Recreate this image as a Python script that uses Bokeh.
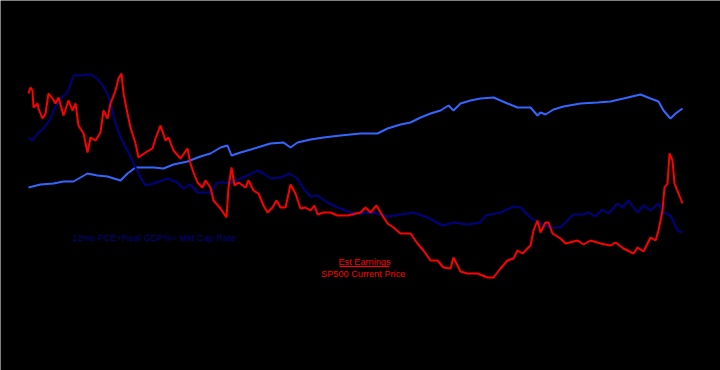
from bokeh.plotting import figure
from bokeh.models import Range1d, Label
from bokeh.embed import file_html
from bokeh.resources import INLINE

# time index (months from start) and series values
t_cap = [0,12,25,35,45,59,69,79,92,99,107,125,135,145,159,172,182,192,199,203,
         212,229,242,255,262,269,282,295,312,332,349,359,372,382,392,402,412,420,425,432,
         442,452,465,479,489,502,509,512,517,525,535,552,569,582,595,612,622,630,635,642,
         647,654]
v_cap = [18.3,18.6,18.7,18.9,18.9,19.7,19.5,19.4,19.0,19.7,20.3,20.3,20.2,20.6,20.9,21.4,21.7,22.3,22.5,21.5,
         21.8,22.3,22.7,22.8,22.3,22.8,23.1,23.3,23.5,23.7,23.7,24.2,24.6,24.8,25.3,25.7,26.0,26.5,26.0,26.7,
         27.0,27.2,27.3,26.7,26.3,26.3,25.5,25.8,25.6,26.1,26.4,26.7,26.8,26.9,27.2,27.6,27.2,26.9,26.0,25.2,
         25.7,26.2]

t_pce = [0,4,9,15,22,25,32,39,42,45,52,62,69,74,79,82,87,92,99,105,
         112,117,125,139,149,155,162,169,182,189,202,212,219,229,235,242,252,261,269,275,
         282,289,299,309,322,332,345,359,372,385,399,414,425,439,452,457,472,485,492,502,
         512,522,532,539,545,555,560,567,574,580,589,594,600,609,615,622,630,635,642,649,654]
v_pce = [23.3,23.0,23.7,24.2,25.2,26.0,27.2,27.8,28.7,29.5,29.5,29.6,29.2,28.5,27.7,26.7,24.7,23.3,22.0,20.7,
         19.3,18.5,18.7,19.2,18.8,18.2,18.6,17.8,17.8,18.8,18.8,19.2,19.5,20.0,19.7,19.2,19.3,19.7,19.2,18.2,
         17.4,17.5,16.8,16.3,15.8,15.7,15.8,15.4,15.6,15.8,15.3,14.5,14.8,14.6,14.8,15.5,15.8,16.4,16.3,15.3,
         14.7,14.3,14.3,15.0,15.6,15.6,15.8,15.4,16.1,15.7,16.7,16.3,17.0,15.8,16.5,16.0,16.7,15.8,15.5,14.0,13.8]

t_eps = [0,2,4,5,9,10,14,17,20,24,27,30,35,40,44,47,50,55,59,62,
         67,72,75,79,82,87,90,93,95,99,102,107,110,117,124,127,132,137,140,145,
         152,159,162,165,169,174,177,182,185,192,198,200,203,206,210,217,220,225,230,235,
         239,244,248,252,257,262,267,272,277,282,286,289,295,302,309,319,332,337,342,348,
         352,359,365,372,382,389,395,402,409,415,422,425,432,439,449,459,465,472,479,485,
         489,494,502,505,509,512,517,520,524,532,537,549,555,562,572,582,587,595,605,609,
         615,619,622,627,630,634,636,639,641,644,646,650,654]
v_eps = [27.7,28.3,28.0,26.3,26.7,26.2,25.2,25.7,27.7,27.2,26.7,27.3,25.5,27.0,26.0,26.7,24.5,23.7,21.8,23.3,
         23.0,23.8,26.0,25.2,26.7,28.0,29.2,29.7,27.7,25.7,24.3,22.7,21.3,21.8,22.2,23.2,24.5,23.0,23.3,22.0,
         21.2,22.2,20.7,19.8,18.8,18.3,19.0,18.3,17.0,16.2,15.3,18.3,20.3,18.5,18.8,18.3,19.0,18.0,17.7,16.5,
         15.8,16.3,17.0,16.3,16.3,18.6,17.7,16.2,16.3,16.0,16.5,15.6,15.8,15.8,15.5,15.5,15.8,16.3,15.8,16.5,
         15.8,14.7,14.3,13.7,13.7,12.7,12.0,11.0,11.0,10.3,10.2,11.3,9.9,9.7,9.7,9.3,9.3,10.2,11.0,11.2,
         12.0,11.7,12.5,14.0,15.0,13.8,14.8,14.8,13.7,13.2,12.7,13.0,12.6,13.0,12.7,12.5,12.8,12.2,11.7,12.3,
         11.9,12.7,13.3,13.0,14.0,16.0,18.3,18.7,21.7,21.0,18.7,17.7,16.7]

label_pce = "12mo PCE+Real GDP%= Mkt Cap Rate"
label_eps1 = "Est Earnings"
label_eps2 = "SP500  Current Price"

p = figure(width=720, height=370, output_backend="svg", toolbar_location=None,
           x_range=Range1d(-28, 692), y_range=Range1d(0, 37),
           background_fill_color="#000000", border_fill_color="#000000",
           min_border=0, outline_line_color=None)
p.axis.visible = False
p.grid.visible = False

p.line(t_cap, v_cap, line_color="#3366FF", line_width=2)
p.line(t_pce, v_pce, line_color="#000080", line_width=2)
p.line(t_eps, v_eps, line_color="#FF0000", line_width=2)

font = "Liberation Sans"
fs = "9.2px"
p.add_layout(Label(x=44, y=13.3, text=label_pce, text_color="#000080",
                   text_font=font, text_font_size=fs, text_baseline="middle"))
p.add_layout(Label(x=336, y=10.85, text=label_eps1, text_color="#FF0000",
                   text_font=font, text_font_size=fs, text_align="center",
                   text_baseline="middle"))
p.add_layout(Label(x=336, y=9.65, text=label_eps2, text_color="#FF0000",
                   text_font=font, text_font_size=fs, text_align="center",
                   text_baseline="middle"))
p.segment(x0=[311], y0=[10.4], x1=[361], y1=[10.4], line_color="#FF0000", line_width=1)

html = file_html(p, INLINE)
html = html.replace("<body>", '<body style="background-color:#000000;">', 1)
open("out.html", "w").write(html)
